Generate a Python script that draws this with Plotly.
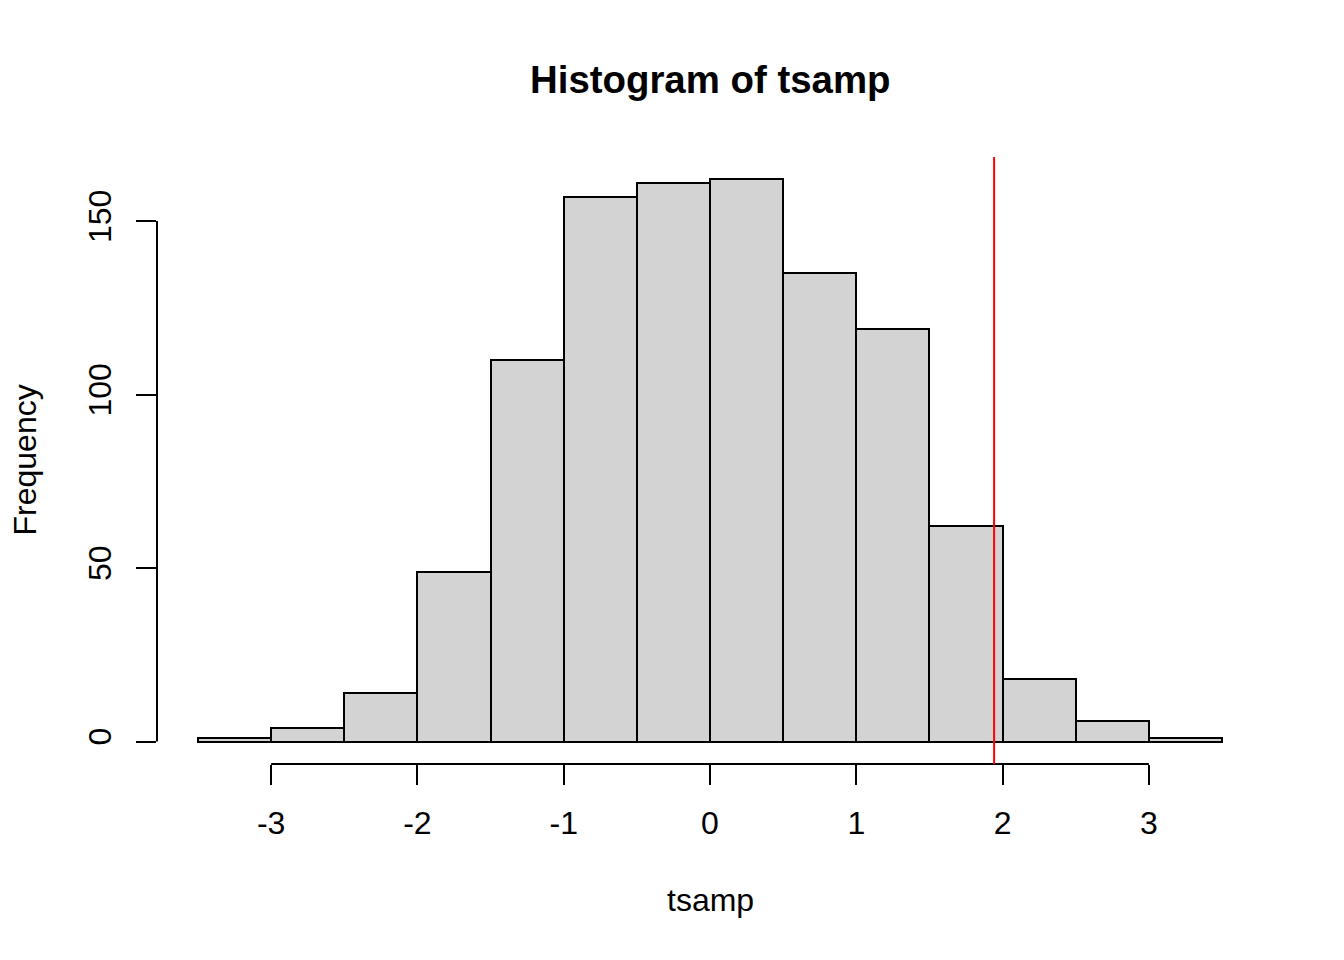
import plotly.graph_objects as go

# Histogram data (bins of width 0.5 from -3.5 to 3.5)
bin_left = [-3.5, -3.0, -2.5, -2.0, -1.5, -1.0, -0.5, 0.0, 0.5, 1.0, 1.5, 2.0, 2.5, 3.0]
counts = [1, 4, 14, 49, 110, 157, 161, 162, 135, 119, 62, 18, 6, 1]
bin_width = 0.5
x_ticks = [-3, -2, -1, 0, 1, 2, 3]
y_ticks = [0, 50, 100, 150]
crit_value = 1.942

centers = [b + bin_width / 2 for b in bin_left]

FONT = "Liberation Sans, Arial, sans-serif"

fig = go.Figure()
fig.add_trace(go.Bar(
    x=centers, y=counts, width=bin_width,
    marker=dict(color="#D3D3D3", line=dict(color="black", width=2)),
    showlegend=False, hoverinfo="x+y",
))

xmin, xmax = bin_left[0], bin_left[-1] + bin_width
xpad = (xmax - xmin) * 0.04
ymax = max(counts)
ypad = ymax * 0.04

fig.update_layout(
    width=1344, height=960,
    margin=dict(l=157, r=81, t=157, b=196),
    paper_bgcolor="white", plot_bgcolor="white",
    font=dict(family=FONT, size=32, color="black"),
    xaxis=dict(range=[xmin - xpad, xmax + xpad], tickvals=x_ticks,
               ticktext=[str(v) for v in x_ticks],
               ticks="outside", ticklen=20, tickwidth=2, tickcolor="black",
               showline=False, showgrid=False, zeroline=False,
               tickfont=dict(size=32), ticklabelstandoff=11),
    yaxis=dict(range=[-ypad, ymax + ypad], tickvals=y_ticks,
               ticktext=[str(v) for v in y_ticks],
               ticks="outside", ticklen=20, tickwidth=2, tickcolor="black",
               showline=False, showgrid=False, zeroline=False,
               tickangle=-90, tickfont=dict(size=32), ticklabelstandoff=12),
    bargap=0,
)

# R-style axis lines spanning first to last tick
fig.add_shape(type="line", xref="x", yref="paper", x0=x_ticks[0], x1=x_ticks[-1],
              y0=0, y1=0, line=dict(color="black", width=2))
fig.add_shape(type="line", xref="paper", yref="y", x0=0, x1=0,
              y0=y_ticks[0], y1=y_ticks[-1], line=dict(color="black", width=2))
# critical value line
fig.add_shape(type="line", xref="x", yref="paper", x0=crit_value, x1=crit_value,
              y0=0, y1=1, line=dict(color="red", width=2))

fig.add_annotation(text="<b>Histogram of tsamp</b>", xref="paper", yref="paper",
                   x=0.5, y=(764 - 80) / 607, xanchor="center", yanchor="middle",
                   showarrow=False, font=dict(size=38.4, family=FONT))
fig.add_annotation(text="tsamp", xref="paper", yref="paper",
                   x=0.5, y=(764 - 900) / 607, xanchor="center", yanchor="middle",
                   showarrow=False, font=dict(size=32, family=FONT))
fig.add_annotation(text="Frequency", xref="paper", yref="paper",
                   x=(24 - 157) / 1106, y=0.5, xanchor="center", yanchor="middle",
                   textangle=-90, showarrow=False, font=dict(size=32, family=FONT))

fig.write_html("out.html")
